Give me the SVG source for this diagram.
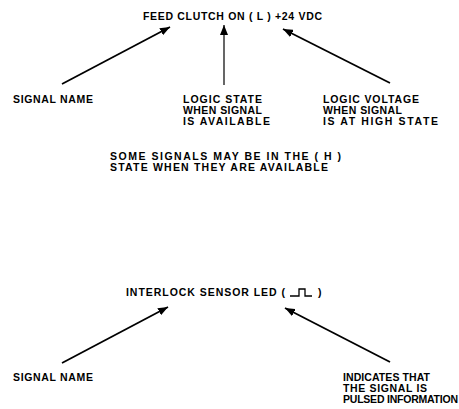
<svg xmlns="http://www.w3.org/2000/svg" width="459" height="409" viewBox="0 0 459 409">
<style>
text{font-family:"Liberation Sans",Arial,sans-serif;font-weight:bold;font-size:10.5px;fill:#000}
.c line{stroke:#000;stroke-width:1.8;marker-end:url(#ah)}
.c line.v{stroke-width:1.2}
.p{fill:none;stroke:#000;stroke-width:1.3}
</style>
<defs>
<marker id="ah" markerUnits="userSpaceOnUse" markerWidth="10" markerHeight="8" refX="10" refY="4" orient="auto">
<path d="M0,0 L10,4 L0,8 z" fill="#000"/>
</marker>
</defs>
<rect width="459" height="409" fill="#fff"/>
<g id="title1"><text x="143" y="20" textLength="179" lengthAdjust="spacing">FEED CLUTCH ON ( L ) +24 VDC</text></g>
<g id="signal-name-1"><text x="13" y="103" textLength="80" lengthAdjust="spacing">SIGNAL NAME</text></g>
<g id="logic-state">
<text x="183" y="103" textLength="79" lengthAdjust="spacing">LOGIC STATE</text>
<text x="183" y="114" textLength="79" lengthAdjust="spacing">WHEN SIGNAL</text>
<text x="183" y="125" textLength="87" lengthAdjust="spacing">IS AVAILABLE</text>
</g>
<g id="logic-voltage">
<text x="323" y="103" textLength="96" lengthAdjust="spacing">LOGIC VOLTAGE</text>
<text x="323" y="114" textLength="79" lengthAdjust="spacing">WHEN SIGNAL</text>
<text x="323" y="125" textLength="115" lengthAdjust="spacing">IS AT HIGH STATE</text>
</g>
<g id="note">
<text x="110" y="159.5" textLength="231" lengthAdjust="spacing">SOME SIGNALS MAY BE IN THE ( H )</text>
<text x="110" y="170.5" textLength="218" lengthAdjust="spacing">STATE WHEN THEY ARE AVAILABLE</text>
</g>
<g id="title2">
<text x="126" y="296" textLength="159" lengthAdjust="spacing">INTERLOCK SENSOR LED (</text>
<polyline class="p" points="290,296 299,296 299,289 305,289 305,296 312,296"/>
<text x="318" y="296">)</text>
</g>
<g id="signal-name-2"><text x="13" y="381" textLength="80" lengthAdjust="spacing">SIGNAL NAME</text></g>
<g id="indicates">
<text x="343" y="381" textLength="87" lengthAdjust="spacing">INDICATES THAT</text>
<text x="343" y="392" textLength="84" lengthAdjust="spacing">THE SIGNAL IS</text>
<text x="343" y="403" textLength="115" lengthAdjust="spacing">PULSED INFORMATION</text>
</g>
<g id="connectors" class="c">
<line x1="62" y1="84" x2="170" y2="27"/>
<line class="v" x1="224" y1="85" x2="224" y2="25"/>
<line x1="390" y1="83" x2="283" y2="29"/>
<line x1="62" y1="363" x2="168" y2="307"/>
<line x1="390" y1="362" x2="285" y2="308"/>
</g>
</svg>
